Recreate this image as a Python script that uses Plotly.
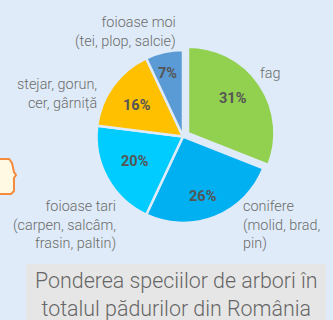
import plotly.graph_objects as go

categories = ["fag", "conifere", "foioase tari", "stejar", "foioase moi"]
values = [31, 26, 20, 16, 7]
colors = ["#92D050", "#00B0F0", "#00CCFF", "#FFC000", "#5B9BD5"]
pulls = [0.07, 0, 0, 0, 0]
pct_labels = ["31%", "26%", "20%", "16%", "7%"]
pct_x = [233, 203, 135, 137, 168]
pct_y = [99, 196, 161, 105, 74]
BG = "#DFEBF8"
W, H = 333, 320

def px(x):
    return x / W
def py(y):
    return 1 - y / H

fig = go.Figure(go.Pie(
    labels=categories, values=values, sort=False, direction="clockwise", rotation=0,
    pull=pulls, textinfo="none",
    marker=dict(colors=colors, line=dict(color=BG, width=2.5)),
    domain=dict(x=[px(90.5), px(275.5)], y=[py(229), py(44)]),
    showlegend=False, hoverinfo="skip",
))

outer = [
    ("foioase moi<br>(tei, plop, salcie)", 178, 32, "right"),
    ("stejar, gorun,<br>cer, gârniță", 99, 94, "right"),
    ("fag", 258, 73, "left"),
    ("foioase tari<br>(carpen, salcâm,<br>frasin, paltin)", 118.5, 225, "right"),
    ("conifere<br>(molid, brad,<br>pin)", 241, 225, "left"),
]
annotations = []
for text, x, y, al in outer:
    annotations.append(dict(
        text=text, x=px(x), y=py(y), xref="paper", yref="paper", showarrow=False,
        xanchor=al, yanchor="middle", align=al,
        font=dict(family="Roboto", size=14.4, color="#6B6B6B", weight=300),
    ))
for label, x, y in zip(pct_labels, pct_x, pct_y):
    annotations.append(dict(
        text=label, x=px(x), y=py(y), xref="paper", yref="paper", showarrow=False,
        xanchor="center", yanchor="middle",
        font=dict(family="Roboto", size=14.5, color="#555555", weight="bold"),
    ))
annotations.append(dict(
    text="Ponderea speciilor de arbori în<br>totalul pădurilor din România",
    x=px(176), y=py(294), xref="paper", yref="paper", showarrow=False,
    xanchor="center", yanchor="middle", align="center",
    font=dict(family="Roboto", size=21.4, color="#666666", weight=300),
))

shapes = [
    dict(type="rect", xref="paper", yref="paper", x0=px(26), x1=px(326), y0=py(264), y1=py(320),
         fillcolor="#E6E6E6", line_width=0, layer="below"),
    dict(type="path", xref="paper", yref="paper",
         path=f"M {px(-3)} {py(159)} L {px(9)} {py(159)} L {px(12)} {py(163)} L {px(14)} {py(172)} "
              f"L {px(16)} {py(175)} L {px(14)} {py(178)} L {px(14)} {py(191)} L {px(11)} {py(194)} L {px(-3)} {py(194)} Z",
         fillcolor="#FFF9E3", line=dict(color="#F58B3C", width=2), layer="below"),
]

fig.update_layout(
    width=W, height=H, margin=dict(l=0, r=0, t=0, b=0),
    paper_bgcolor=BG, plot_bgcolor=BG,
    annotations=annotations, shapes=shapes,
)
fig.write_html(
    "out.html",
    config=dict(displayModeBar=False),
    post_script="document.body.style.margin='0';document.body.style.overflow='hidden';document.body.style.background='#DFEBF8';",
)
